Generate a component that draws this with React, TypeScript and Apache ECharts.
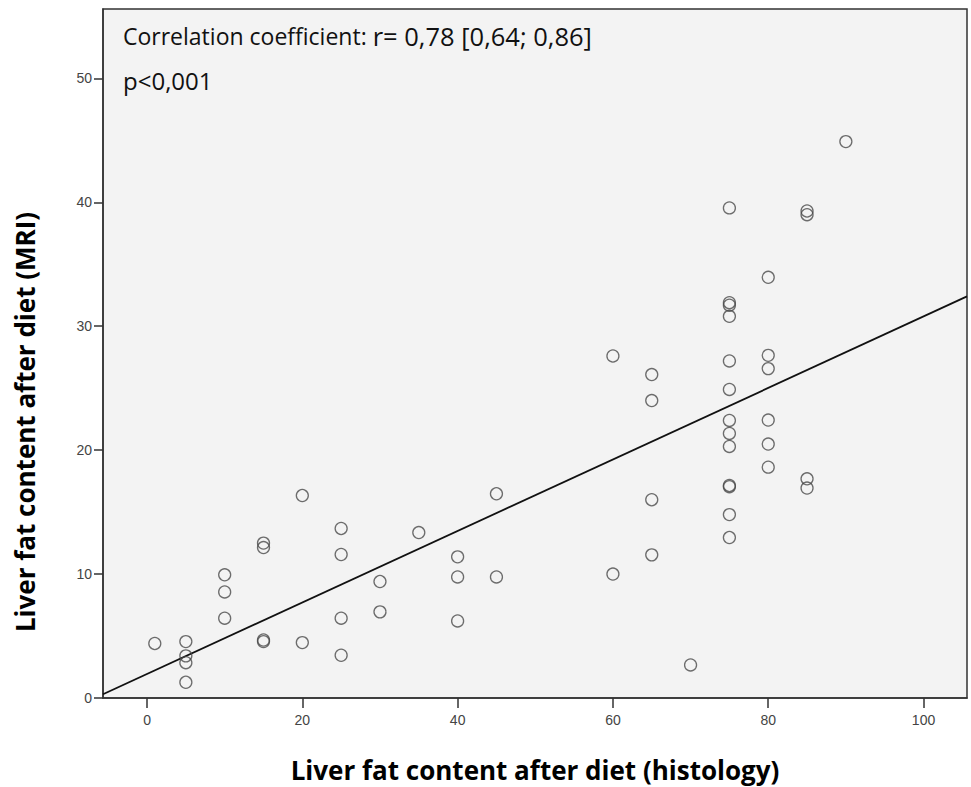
import React, { useEffect, useRef } from "react";
import * as echarts from "echarts";

// Scatter data: histology (%) vs MRI (%)
const histology = [
  1, 5, 5, 5, 5, 10, 10, 10, 15, 15, 15, 15, 20, 20, 25, 25, 25, 25, 30, 30, 35,
  40, 40, 40, 45, 45, 60, 60, 65, 65, 65, 65, 70,
  75, 75, 75, 75, 75, 75, 75, 75, 75, 75, 75, 75, 75,
  80, 80, 80, 80, 80, 80, 85, 85, 85, 85, 90,
];
const mri = [
  4.4, 4.55, 3.4, 2.85, 1.27, 9.94, 8.56, 6.44, 12.5, 12.14, 4.68, 4.55, 16.34, 4.47, 13.68, 11.58, 6.44, 3.45, 9.4, 6.95, 13.35,
  11.39, 9.77, 6.22, 16.48, 9.77, 27.6, 10.0, 26.1, 24.0, 16.0, 11.55, 2.67,
  39.55, 31.9, 31.7, 30.8, 27.2, 24.9, 22.4, 21.35, 20.3, 17.15, 17.05, 14.8, 12.95,
  33.95, 27.65, 26.58, 22.43, 20.49, 18.63, 39.3, 39.0, 17.69, 16.94, 44.9,
];

// Fit line
const fitIntercept = 1.94;
const fitSlope = 0.2885;

const xTicks = [0, 20, 40, 60, 80, 100];
const yTicks = [0, 10, 20, 30, 40, 50];
const xMin = -5.67;
const xMax = 105.6;
const yMin = 0;
const yMax = 55.6;

const xTitle = "Liver fat content after diet (histology)";
const yTitle = "Liver fat content after diet (MRI)";

export default function App() {
  const ref = useRef<HTMLDivElement>(null);
  useEffect(() => {
    document.body.style.margin = "0";
    if (!ref.current) return;
    const chart = echarts.init(ref.current, undefined, { renderer: "svg" });
    const points = histology.map((x, i) => [x, mri[i]]);
    const fitLine = [
      [xMin, fitIntercept + fitSlope * xMin],
      [xMax, fitIntercept + fitSlope * xMax],
    ];
    chart.setOption({
      animation: false,
      backgroundColor: "#ffffff",
      grid: {
        left: 103,
        right: 4,
        top: 9,
        bottom: 89,
        outerBoundsMode: "none",
        containLabel: false,
        show: true,
        backgroundColor: "#f3f3f3",
        borderColor: "#333",
        borderWidth: 1.5,
      },
      xAxis: {
        type: "value",
        min: xMin,
        max: xMax,
        splitLine: { show: false },
        axisLine: { show: true, onZero: false, lineStyle: { color: "#333", width: 1.5 } },
        axisTick: {
          show: true,
          length: 10,
          lineStyle: { color: "#333", width: 1.5 },
          customValues: xTicks,
        },
        axisLabel: {
          customValues: xTicks,
          color: "#444",
          fontFamily: "Liberation Sans",
          fontSize: 14,
          margin: 15,
        },
        name: xTitle,
        nameLocation: "middle",
        nameGap: 58,
        nameTextStyle: {
          fontFamily: "Open Sans",
          fontWeight: "bold",
          fontSize: 26,
          lineHeight: 28,
          color: "#000",
        },
      },
      yAxis: {
        type: "value",
        min: yMin,
        max: yMax,
        splitLine: { show: false },
        axisLine: { show: true, onZero: false, lineStyle: { color: "#333", width: 1.5 } },
        axisTick: {
          show: true,
          length: 9,
          lineStyle: { color: "#333", width: 1.5 },
          customValues: yTicks,
        },
        axisLabel: {
          customValues: yTicks,
          color: "#444",
          fontFamily: "Liberation Sans",
          fontSize: 14,
          margin: 11,
        },
      },
      graphic: [
        {
          type: "text",
          x: 25,
          y: 422,
          rotation: Math.PI / 2,
          style: {
            text: yTitle,
            fontFamily: "Open Sans",
            fontWeight: "bold",
            fontSize: 26,
            fill: "#000",
            align: "center",
            verticalAlign: "middle",
          },
        },
        {
          type: "text",
          left: 123,
          top: 23,
          style: {
            text: "{a|Correlation coefficient: }{b|r= 0,78 [0,64; 0,86]}",
            rich: {
              a: { fontFamily: "Open Sans", fontSize: 23, fill: "#111" },
              b: { fontFamily: "Open Sans", fontSize: 25.5, fill: "#111" },
            },
          },
        },
        {
          type: "text",
          left: 123,
          top: 68,
          style: {
            text: "p<0,001",
            fontFamily: "Open Sans",
            fontSize: 24,
            fill: "#111",
          },
        },
      ],
      series: [
        {
          type: "line",
          data: fitLine,
          symbol: "none",
          lineStyle: { color: "#111", width: 1.8 },
          z: 2,
          silent: true,
        },
        {
          type: "scatter",
          data: points,
          symbol: "circle",
          symbolSize: 12,
          itemStyle: {
            color: "rgba(0,0,0,0)",
            borderColor: "#4a4a4a",
            borderWidth: 1.3,
          },
          z: 3,
        },
      ],
    });
    return () => chart.dispose();
  }, []);
  return <div ref={ref} style={{ width: 971, height: 787 }} />;
}
